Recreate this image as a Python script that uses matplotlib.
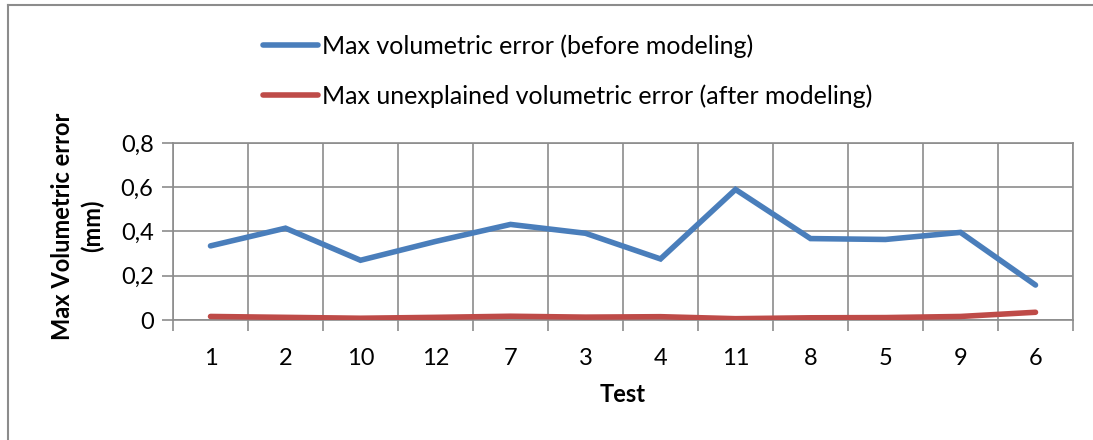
import matplotlib.pyplot as plt
from matplotlib.lines import Line2D
from matplotlib.ticker import FuncFormatter

plt.rcParams['font.family'] = ['Lato', 'DejaVu Sans']

tests = ['1', '2', '10', '12', '7', '3', '4', '11', '8', '5', '9', '6']
before = [0.335, 0.415, 0.270, 0.355, 0.432, 0.392, 0.276, 0.590, 0.368, 0.364, 0.396, 0.158]
after = [0.016, 0.012, 0.008, 0.012, 0.017, 0.013, 0.015, 0.006, 0.010, 0.011, 0.016, 0.035]

BLUE = '#4a7ebb'
RED = '#be4b48'
GRID = '#8c8c8c'

fig = plt.figure(figsize=(10.93, 4.40), dpi=100)
ax = fig.add_axes([173 / 1093, (440 - 320) / 440, 900 / 1093, 177 / 440])

x = range(len(tests))
ax.plot(x, before, color=BLUE, lw=4, solid_capstyle='round', solid_joinstyle='miter',
        label='Max volumetric error (before modeling)', zorder=3)
ax.plot(x, after, color=RED, lw=4, solid_capstyle='round',
        label='Max unexplained volumetric error (after modeling)', zorder=3)

ax.set_xlim(-0.5, len(tests) - 0.5)
ax.set_ylim(0, 0.8)
ax.set_yticks([0, 0.2, 0.4, 0.6, 0.8])
ax.yaxis.set_major_formatter(FuncFormatter(lambda v, p: '0' if v == 0 else f'{v:.1f}'.replace('.', ',')))

# category labels centred, gridlines on the category boundaries
ax.set_xticks(list(x))
ax.set_xticklabels(tests)
ax.set_xticks([i - 0.5 for i in range(len(tests) + 1)], minor=True)
ax.tick_params(axis='x', which='major', length=0, pad=20, labelsize=17)
ax.tick_params(axis='x', which='minor', length=8, color=GRID, width=1.2)
ax.tick_params(axis='y', length=8, color=GRID, width=1.2, pad=6, labelsize=17)
ax.grid(True, which='minor', axis='x', color=GRID, lw=1.2)
ax.grid(True, which='major', axis='y', color=GRID, lw=1.2)
ax.set_axisbelow(True)
for s in ax.spines.values():
    s.set_color(GRID)
    s.set_linewidth(1.2)

ax.set_xlabel('Test', fontsize=17, fontweight='bold', labelpad=10)
fig.text(78 / 1093, 1 - 226 / 440, 'Max Volumetric error\n(mm)', rotation=90,
         ha='center', va='center', fontsize=17, fontweight='bold', linespacing=1.35)

handles, labels = ax.get_legend_handles_labels()
fig.legend(handles, labels, loc='upper left', bbox_to_anchor=(240 / 1093, 1 - 12 / 440),
           frameon=False, fontsize=18, handlelength=2.2, handletextpad=0.2,
           labelspacing=1.05)

# outer chart frame
fig.add_artist(Line2D([8 / 1093, 8 / 1093], [0, 1 - 5 / 440], transform=fig.transFigure,
                      color='#8c8c8c', lw=1.5))
fig.add_artist(Line2D([8 / 1093, 1], [1 - 5 / 440, 1 - 5 / 440], transform=fig.transFigure,
                      color='#8c8c8c', lw=1.5))

fig.savefig('out.png', dpi=100)
